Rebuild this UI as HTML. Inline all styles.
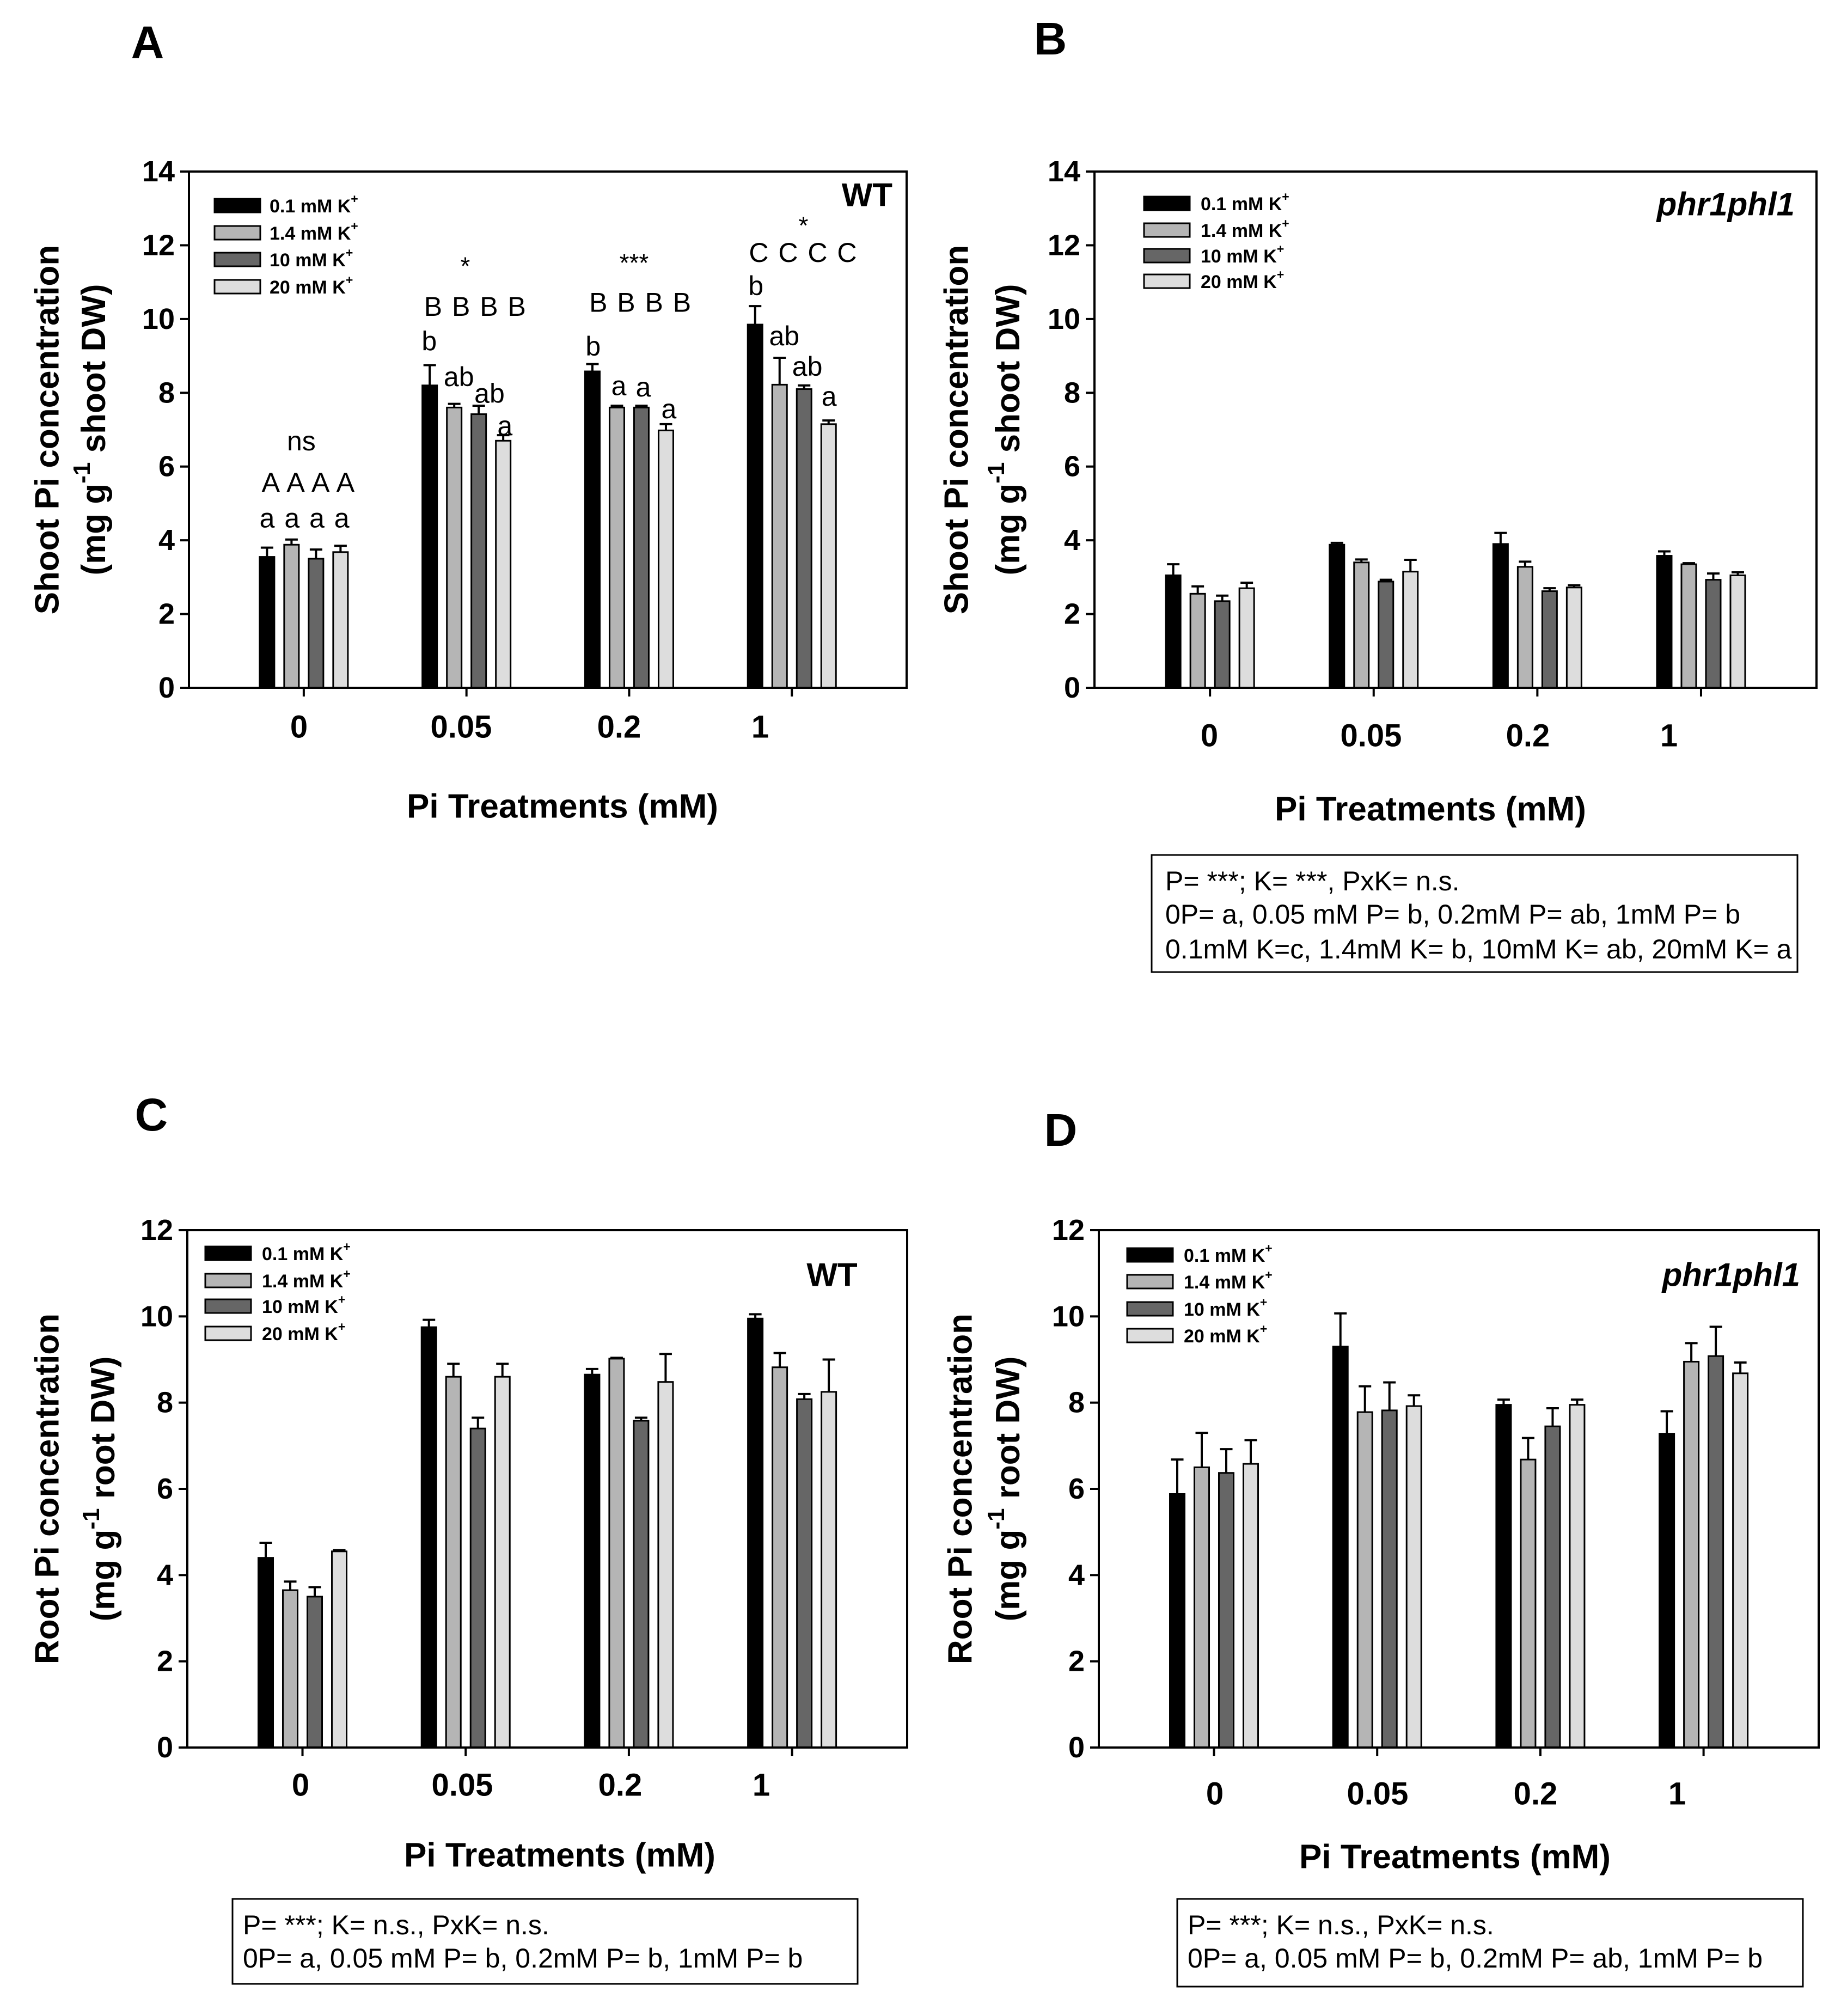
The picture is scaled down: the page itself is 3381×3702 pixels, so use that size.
<!DOCTYPE html>
<html><head><meta charset="utf-8"><style>
html,body{margin:0;padding:0;background:#fff;}
svg{display:block;font-family:"Liberation Sans",Arial,sans-serif;}
</style></head><body>
<svg id="fig" xmlns="http://www.w3.org/2000/svg" width="3381" height="3702" viewBox="0 0 3381 3702">
<rect x="0" y="0" width="3381" height="3702" fill="#fff"/>
</svg>
<script>
// ---- data ----
const categories = ["0", "0.05", "0.2", "1"];
const kLevels = ["0.1 mM K", "1.4 mM K", "10 mM K", "20 mM K"];
// Panel A: shoot Pi, WT
const shootWT_k01 = [3.55, 8.2, 8.58, 9.85];
const shootWT_k14 = [3.88, 7.6, 7.6, 8.22];
const shootWT_k10 = [3.5, 7.42, 7.6, 8.1];
const shootWT_k20 = [3.68, 6.7, 6.98, 7.15];
const shootWTerr_k01 = [0.25, 0.55, 0.2, 0.5];
const shootWTerr_k14 = [0.14, 0.1, 0.05, 0.73];
const shootWTerr_k10 = [0.25, 0.23, 0.05, 0.1];
const shootWTerr_k20 = [0.17, 0.15, 0.17, 0.1];
// Panel B: shoot Pi, phr1phl1
const shootMut_k01 = [3.05, 3.88, 3.9, 3.58];
const shootMut_k14 = [2.55, 3.4, 3.28, 3.35];
const shootMut_k10 = [2.35, 2.88, 2.62, 2.93];
const shootMut_k20 = [2.7, 3.15, 2.72, 3.05];
const shootMuterr_k01 = [0.3, 0.05, 0.3, 0.12];
const shootMuterr_k14 = [0.2, 0.08, 0.14, 0.03];
const shootMuterr_k10 = [0.15, 0.05, 0.08, 0.17];
const shootMuterr_k20 = [0.15, 0.32, 0.06, 0.08];
// Panel C: root Pi, WT
const rootWT_k01 = [4.4, 9.75, 8.65, 9.95];
const rootWT_k14 = [3.65, 8.6, 9.02, 8.82];
const rootWT_k10 = [3.5, 7.4, 7.58, 8.08];
const rootWT_k20 = [4.55, 8.6, 8.48, 8.25];
const rootWTerr_k01 = [0.35, 0.17, 0.13, 0.1];
const rootWTerr_k14 = [0.2, 0.3, 0.02, 0.33];
const rootWTerr_k10 = [0.22, 0.25, 0.07, 0.12];
const rootWTerr_k20 = [0.03, 0.3, 0.65, 0.75];
// Panel D: root Pi, phr1phl1
const rootMut_k01 = [5.88, 9.3, 7.95, 7.28];
const rootMut_k14 = [6.5, 7.78, 6.68, 8.95];
const rootMut_k10 = [6.37, 7.82, 7.45, 9.08];
const rootMut_k20 = [6.58, 7.92, 7.95, 8.68];
const rootMuterr_k01 = [0.8, 0.77, 0.12, 0.52];
const rootMuterr_k14 = [0.8, 0.6, 0.5, 0.43];
const rootMuterr_k10 = [0.55, 0.65, 0.42, 0.68];
const rootMuterr_k20 = [0.55, 0.25, 0.12, 0.25];
// Panel A significance letters
const annoText = ["ns","A A A A","a a a a","*","B B B B","b","ab","ab","a","***","B B B B","b","a","a","a","*","C C C C","b","ab","ab","a"];
const annoGroup = [0,0,0,1,1,1,1,1,1,2,2,2,2,2,2,3,3,3,3,3,3];
const annoPos = [-0.1,0.2,0.05,-0.05,0.37,-1.52,-0.31,0.94,1.57,0.2,0.47,-1.47,-0.42,0.58,1.62,0.47,0.47,-1.47,-0.31,0.63,1.52];
const annoValue = [6.69,5.57,4.6,11.44,10.34,9.4,8.43,7.98,7.1,11.53,10.45,9.26,8.19,8.15,7.56,12.54,11.8,10.9,9.54,8.71,7.9];

const NS = "http://www.w3.org/2000/svg";
const svg = document.getElementById("fig");
const fills = ["#000000", "#b5b5b5", "#666666", "#dddddd"];
function mk(tag, attrs, parent, text) {
  const e = document.createElementNS(NS, tag);
  for (const k in attrs) e.setAttribute(k, attrs[k]);
  if (text !== undefined) e.textContent = text;
  (parent || svg).appendChild(e);
  return e;
}

const panels = [
  {id:"a", letter:"A", lx:271, ly:78, x0:347, x1:1665, y0:315, y1:1263, ymax:14, ystep:2,
   series:[shootWT_k01,shootWT_k14,shootWT_k10,shootWT_k20], errs:[shootWTerr_k01,shootWTerr_k14,shootWTerr_k10,shootWTerr_k20],
   yt1:"Shoot Pi concentration", yt2a:"(mg g", yt2b:" shoot DW)", ytx1:87, ytx2:172, geno:"WT", gx:1639, gy:358, gItal:false,
   legX:394, legY:[377,427,476,526], legTX:495, catX:[549,847,1137,1396], catY:1335, xtY:1481, xtX:1033},
  {id:"b", letter:"B", lx:1929, ly:71, x0:2010, x1:3336, y0:315, y1:1263, ymax:14, ystep:2,
   series:[shootMut_k01,shootMut_k14,shootMut_k10,shootMut_k20], errs:[shootMuterr_k01,shootMuterr_k14,shootMuterr_k10,shootMuterr_k20],
   yt1:"Shoot Pi concentration", yt2a:"(mg g", yt2b:" shoot DW)", ytx1:1757, ytx2:1851, geno:"phr1phl1", gx:3296, gy:375, gItal:true,
   legX:2101, legY:[373,422,469,516], legTX:2205, catX:[2221,2518,2806,3065], catY:1351, xtY:1486, xtX:2627,
   box:{x:2115,y:1570,w:1186,h:215,tx:2140,lines:["P= ***; K= ***, PxK= n.s.","0P= a, 0.05 mM P= b, 0.2mM P= ab, 1mM P= b","0.1mM K=c, 1.4mM K= b, 10mM K= ab, 20mM K= a"],ly:[1618,1679,1743]}},
  {id:"c", letter:"C", lx:278, ly:2047, x0:344, x1:1666, y0:2259, y1:3209, ymax:12, ystep:2,
   series:[rootWT_k01,rootWT_k14,rootWT_k10,rootWT_k20], errs:[rootWTerr_k01,rootWTerr_k14,rootWTerr_k10,rootWTerr_k20],
   yt1:"Root Pi concentration", yt2a:"(mg g", yt2b:" root DW)", ytx1:87, ytx2:189, geno:"WT", gx:1528, gy:2341, gItal:false, gMid:true,
   legX:377, legY:[2301,2351,2398,2448], legTX:481, catX:[552,849,1139,1398], catY:3278, xtY:3407, xtX:1028,
   box:{x:427,y:3487,w:1148,h:156,tx:446,lines:["P= ***; K= n.s., PxK= n.s.","0P= a, 0.05 mM P= b, 0.2mM P= b, 1mM P= b"],ly:[3535,3596]}},
  {id:"d", letter:"D", lx:1948, ly:2075, x0:2018, x1:3340, y0:2259, y1:3209, ymax:12, ystep:2,
   series:[rootMut_k01,rootMut_k14,rootMut_k10,rootMut_k20], errs:[rootMuterr_k01,rootMuterr_k14,rootMuterr_k10,rootMuterr_k20],
   yt1:"Root Pi concentration", yt2a:"(mg g", yt2b:" root DW)", ytx1:1764, ytx2:1851, geno:"phr1phl1", gx:3306, gy:2341, gItal:true,
   legX:2070, legY:[2304,2353,2403,2452], legTX:2174, catX:[2231,2530,2820,3080], catY:3294, xtY:3410, xtX:2672,
   box:{x:2162,y:3487,w:1149,h:161,tx:2181,lines:["P= ***; K= n.s., PxK= n.s.","0P= a, 0.05 mM P= b, 0.2mM P= ab, 1mM P= b"],ly:[3535,3596]}}
];

panels.forEach(p => {
  const g = mk("g", {});
  
  
  const W = p.x1 - p.x0;
  const yS = v => p.y1 - v / p.ymax * (p.y1 - p.y0);
  const gC = i => p.x0 + W * (0.16 + 0.2267 * i);
  const barStep = 45, barW = 27;
  const bX = (i, k) => gC(i) + (k - 1.5) * barStep;

  const pl = mk("text", {x:p.lx, y:p.ly, "font-size":84, "font-weight":"bold", "text-anchor":"middle", "dominant-baseline":"central"}, g, p.letter);
  
  

  p.series.forEach((ser, k) => {
    ser.forEach((v, i) => {
      const cx = bX(i, k);
      const top = yS(v), et = yS(v + p.errs[k][i]);
      const eb = mk("path", {d:`M${cx},${top} V${et} M${cx - barW/2 + 2},${et} H${cx + barW/2 - 2}`, stroke:"#000", "stroke-width":4, fill:"none"}, g);
      
      
      const r = mk("rect", {x:cx - barW/2, y:top, width:barW, height:p.y1 - top, fill:fills[k], stroke:"#000", "stroke-width":3}, g);
      
      
    });
  });

  const fr = mk("rect", {x:p.x0, y:p.y0, width:W, height:p.y1 - p.y0, fill:"none", stroke:"#000", "stroke-width":4}, g);
  
  

  for (let v = 0; v <= p.ymax; v += p.ystep) {
    const y = yS(v);
    mk("line", {x1:p.x0 - 16, x2:p.x0, y1:y, y2:y, stroke:"#000", "stroke-width":4}, g);
    const t = mk("text", {x:p.x0 - 26, y:y, "font-size":54, "font-weight":"bold", "text-anchor":"end", "dominant-baseline":"central"}, g, String(v));
    
    
  }
  categories.forEach((c, i) => {
    mk("line", {x1:gC(i), x2:gC(i), y1:p.y1, y2:p.y1 + 16, stroke:"#000", "stroke-width":4}, g);
    const t = mk("text", {x:p.catX[i], y:p.catY, "font-size":58, "font-weight":"bold", "text-anchor":"middle", "dominant-baseline":"central"}, g, c);
    
    
  });

  const xt = mk("text", {x:p.xtX, y:p.xtY, "font-size":62, "font-weight":"bold", "text-anchor":"middle", "dominant-baseline":"central"}, g, "Pi Treatments (mM)");
  
  
  const ym = (p.y0 + p.y1) / 2;
  const yt1 = mk("text", {x:p.ytx1, y:ym, "font-size":62, "font-weight":"bold", "text-anchor":"middle", "dominant-baseline":"central", transform:`rotate(-90 ${p.ytx1} ${ym})`}, g, p.yt1);
  
  
  const yt2 = mk("text", {x:p.ytx2, y:ym, "font-size":62, "font-weight":"bold", "text-anchor":"middle", "dominant-baseline":"central", transform:`rotate(-90 ${p.ytx2} ${ym})`}, g);
  
  
  mk("tspan", {}, yt2, p.yt2a);
  mk("tspan", {dy:-22, "font-size":44}, yt2, "-1");
  mk("tspan", {dy:22}, yt2, p.yt2b);

  const gl = mk("text", {x:p.gx, y:p.gy, "font-size":60, "font-weight":"bold", "font-style":p.gItal ? "italic" : "normal", "text-anchor":p.gMid ? "middle" : "end", "dominant-baseline":"central"}, g, p.geno);
  
  

  kLevels.forEach((lab, k) => {
    const sw = mk("rect", {x:p.legX, y:p.legY[k] - 12, width:84, height:25, fill:fills[k], stroke:"#000", "stroke-width":3}, g);
    
    
    const lt = mk("text", {x:p.legTX, y:p.legY[k] + 2, "font-size":34, "font-weight":"bold", "dominant-baseline":"central"}, g);
    
    
    mk("tspan", {}, lt, lab);
    mk("tspan", {dy:-14, "font-size":23}, lt, "+");
  });

  if (p.box) {
    const bx = mk("rect", {x:p.box.x, y:p.box.y, width:p.box.w, height:p.box.h, fill:"none", stroke:"#000", "stroke-width":3}, g);
    
    
    p.box.lines.forEach((ln, j) => {
      const t = mk("text", {x:p.box.tx, y:p.box.ly[j], "font-size":50, "dominant-baseline":"central"}, g, ln);
      
      
    });
  }

  if (p.id === "a") {
    annoText.forEach((txt, j) => {
      const x = gC(annoGroup[j]) + annoPos[j] * barStep;
      const t = mk("text", {x:x, y:yS(annoValue[j]), "font-size":txt.indexOf("*") >= 0 ? 46 : 50, "text-anchor":"middle", "dominant-baseline":"central", "letter-spacing":txt.length > 3 ? 2 : 0}, g, txt);
      
      
    });
  }
});
</script>
</body></html>
